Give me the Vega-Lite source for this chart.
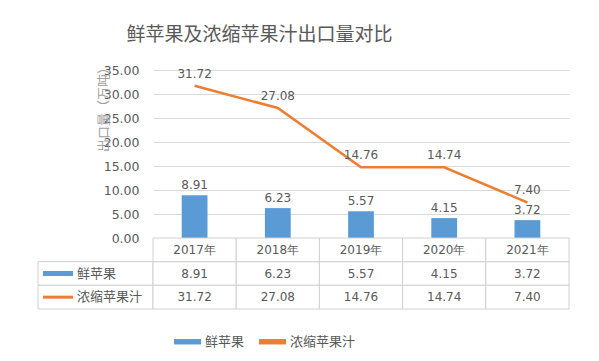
{
  "$schema": "https://vega.github.io/schema/vega-lite/v6.json",
  "background": "white",
  "padding": {"left": 37, "top": 26, "right": 31, "bottom": 10},
  "title": {"text": "鲜苹果及浓缩苹果汁出口量对比", "fontSize": 19, "font": "Noto Sans CJK SC", "fontWeight": "normal", "color": "#595959", "anchor": "middle", "dx": -44, "offset": 15},
  "datasets": {
    "d": [
      {"year": "2017年", "series": "鲜苹果", "value": 8.91},
      {"year": "2018年", "series": "鲜苹果", "value": 6.23},
      {"year": "2019年", "series": "鲜苹果", "value": 5.57},
      {"year": "2020年", "series": "鲜苹果", "value": 4.15},
      {"year": "2021年", "series": "鲜苹果", "value": 3.72},
      {"year": "2017年", "series": "浓缩苹果汁", "value": 31.72},
      {"year": "2018年", "series": "浓缩苹果汁", "value": 27.08},
      {"year": "2019年", "series": "浓缩苹果汁", "value": 14.76},
      {"year": "2020年", "series": "浓缩苹果汁", "value": 14.74},
      {"year": "2021年", "series": "浓缩苹果汁", "value": 7.40}
    ]
  },
  "columns": 2,
  "spacing": 0,
  "bounds": "flush",
  "resolve": {"scale": {"x": "independent", "y": "independent"}},
  "concat": [
    {
      "width": 115, "height": 168,
      "data": {"values": [{"t": ""}]},
      "mark": {"type": "text", "opacity": 0},
      "encoding": {"text": {"field": "t"}}
    },
    {
      "width": 416, "height": 168,
      "data": {"name": "d"},
      "encoding": {
        "x": {"field": "year", "type": "nominal", "sort": null, "scale": {"paddingInner": 0, "paddingOuter": 0}, "axis": null},
        "y": {"field": "value", "type": "quantitative", "scale": {"domain": [0, 35], "nice": false},
          "axis": {"values": [0, 5, 10, 15, 20, 25, 30, 35], "tickCount": 8, "format": ".2f", "labelOverlap": false, "grid": true, "gridColor": "#D9D9D9", "domain": false, "ticks": false, "labelPadding": 14, "labelFontSize": 12.5, "labelColor": "#595959", "labelFont": "DejaVu Sans",
            "title": "出口量（万吨）", "titleFontSize": 13, "titleFontWeight": "normal", "titleColor": "#A0A0A0", "titleFont": "Noto Sans CJK SC", "titleX": -50, "titleY": 36, "titleAngle": -90, "titleAlign": "center", "titleBaseline": "middle"}}
      },
      "layer": [
        {
          "transform": [{"filter": "datum.series === '鲜苹果'"}],
          "mark": {"type": "bar", "width": {"band": 0.31}},
          "encoding": {
            "color": {"field": "series", "type": "nominal", "scale": {"domain": ["鲜苹果", "浓缩苹果汁"], "range": ["#5B9BD5", "#ED7D31"]},
              "legend": {"title": null, "orient": "none", "legendX": 136, "legendY": 258, "direction": "horizontal", "symbolType": "M-1,-0.2H1V0.2H-1Z", "symbolSize": 729, "symbolStrokeWidth": 0, "labelFontSize": 13, "labelColor": "#595959", "labelFont": "Noto Sans CJK SC", "columnPadding": 14, "labelOffset": 4}}
          }
        },
        {
          "transform": [{"filter": "datum.series === '鲜苹果'"}],
          "mark": {"type": "text", "dy": -10, "fontSize": 12, "color": "#595959", "font": "DejaVu Sans"},
          "encoding": {"text": {"field": "value", "type": "quantitative", "format": ".2f"}}
        },
        {
          "transform": [{"filter": "datum.series === '浓缩苹果汁'"}],
          "mark": {"type": "line", "color": "#ED7D31", "strokeWidth": 2.5},
          "encoding": {}
        },
        {
          "transform": [{"filter": "datum.series === '浓缩苹果汁'"}],
          "mark": {"type": "text", "dy": -12, "fontSize": 12, "color": "#595959", "font": "DejaVu Sans"},
          "encoding": {"text": {"field": "value", "type": "quantitative", "format": ".2f"}}
        }
      ]
    },
    {
      "width": 115, "height": 71,
      "data": {"name": "d"},
      "transform": [{"filter": "datum.year === '2017年'"}],
      "encoding": {"y": {"field": "series", "type": "nominal", "scale": {"domain": ["header", "鲜苹果", "浓缩苹果汁"], "paddingInner": 0, "paddingOuter": 0}, "axis": null}},
      "layer": [
        {"mark": {"type": "rect", "fill": "white", "stroke": "#D0D0D0", "strokeWidth": 1}},
        {
          "transform": [{"filter": "datum.series === '鲜苹果'"}],
          "mark": {"type": "tick", "orient": "horizontal", "color": "#5B9BD5", "size": 30, "thickness": 5, "opacity": 1},
          "encoding": {"x": {"value": 20}}
        },
        {
          "transform": [{"filter": "datum.series === '浓缩苹果汁'"}],
          "mark": {"type": "tick", "orient": "horizontal", "color": "#ED7D31", "size": 30, "thickness": 3, "opacity": 1},
          "encoding": {"x": {"value": 20}}
        },
        {
          "mark": {"type": "text", "align": "left", "fontSize": 13, "color": "#595959", "font": "Noto Sans CJK SC"},
          "encoding": {"x": {"value": 39}, "text": {"field": "series"}}
        }
      ]
    },
    {
      "width": 416, "height": 71,
      "data": {"name": "d"},
      "encoding": {"x": {"field": "year", "type": "nominal", "sort": null, "scale": {"paddingInner": 0, "paddingOuter": 0}, "axis": null}},
      "layer": [
        {
          "mark": {"type": "rect", "fill": "white", "stroke": "#D0D0D0", "strokeWidth": 1},
          "encoding": {"y": {"field": "series", "type": "nominal", "scale": {"domain": ["header", "鲜苹果", "浓缩苹果汁"], "paddingInner": 0, "paddingOuter": 0}, "axis": null}}
        },
        {
          "transform": [{"filter": "datum.series === '鲜苹果'"}],
          "mark": {"type": "rect", "fill": "white", "stroke": "#D0D0D0", "strokeWidth": 1},
          "encoding": {"y": {"datum": "header", "type": "nominal"}}
        },
        {
          "mark": {"type": "text", "fontSize": 12, "color": "#595959", "font": "DejaVu Sans"},
          "encoding": {"y": {"field": "series", "type": "nominal"}, "text": {"field": "value", "type": "quantitative", "format": ".2f"}}
        },
        {
          "transform": [{"filter": "datum.series === '鲜苹果'"}],
          "mark": {"type": "text", "fontSize": 12, "color": "#595959", "font": "DejaVu Sans"},
          "encoding": {"y": {"datum": "header", "type": "nominal"}, "text": {"field": "year"}}
        }
      ]
    }
  ],
  "config": {
    "view": {"stroke": null},
    "font": "DejaVu Sans"
  }
}
